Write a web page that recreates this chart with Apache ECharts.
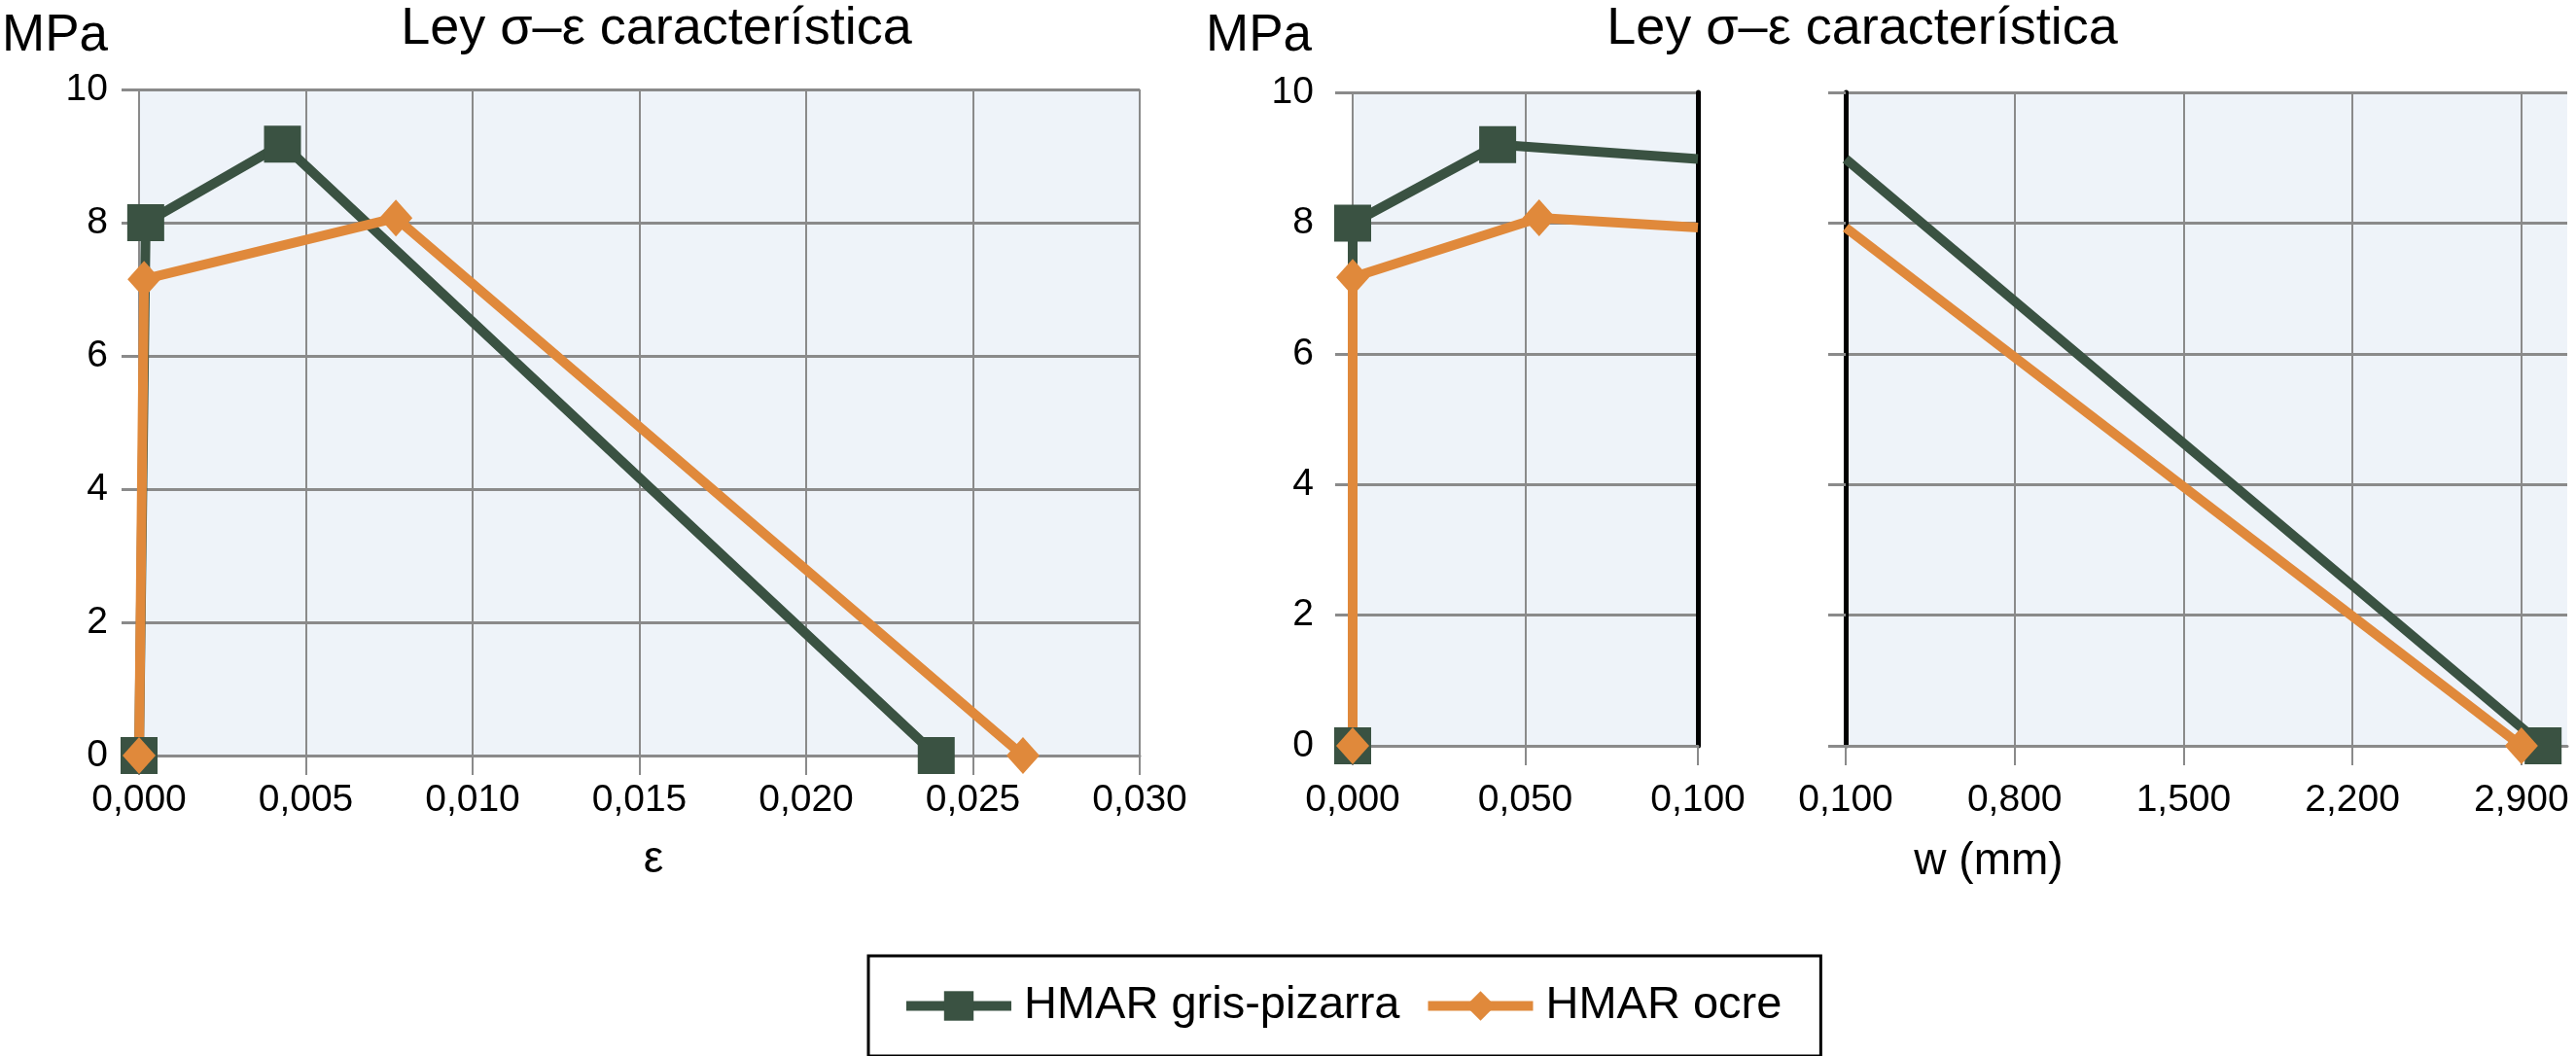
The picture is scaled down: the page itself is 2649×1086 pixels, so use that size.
<!DOCTYPE html>
<html><head><meta charset="utf-8">
<script src="https://cdn.jsdelivr.net/npm/echarts@6/dist/echarts.min.js"></script>
<style>html,body{margin:0;padding:0;background:#fff}#c{width:2649px;height:1086px}</style>
</head><body><div id="c"></div>
<script>
// ---- data ----
const seriesNames = ['HMAR gris-pizarra', 'HMAR ocre'];
const titleText = 'Ley σ–ε característica';
const yUnit = 'MPa';
const epsName = 'ε';
const wName = 'w (mm)';
// left chart: stress vs strain
const grisEps = [[0, 0], [0.0002, 8.0], [0.0043, 9.18], [0.0239, 0]];
const ocreEps = [[0, 0], [0.00015, 7.15], [0.0077, 8.07], [0.0265, 0]];
// right chart, first segment (w 0 .. 0.1 mm)
const grisW1 = [[0, 0], [0, 8.0], [0.042, 9.2], [0.1, 8.98]];
const ocreW1 = [[0, 0], [0, 7.17], [0.054, 8.08], [0.1, 7.93]];
// right chart, second segment (w 0.1 .. 2.9 mm)
const grisW2 = [[0.1, 8.98], [2.99, 0]];
const ocreW2 = [[0.1, 7.93], [2.9, 0]];
// ticks
const yTicks = [0, 2, 4, 6, 8, 10];
const epsTicks = [0, 0.005, 0.010, 0.015, 0.020, 0.025, 0.030];
const w1Ticks = [0, 0.05, 0.1];
const w2Ticks = [0.1, 0.8, 1.5, 2.2, 2.9];
const breakW = 0.1; // points at the axis break carry no marker

// ---- style ----
const GREEN = '#3a5242', ORANGE = '#e0893b', GRID = '#8a8a8a', BG = '#eef3f9';
const FONT = 'Liberation Sans';
const fmt3 = v => v.toFixed(3).replace('.', ',');

const chart = echarts.init(document.getElementById('c'), null, {renderer: 'canvas'});

function xAxisBase(grid, ticks, margin, extra) {
  return Object.assign({
    type: 'value', gridIndex: grid,
    min: ticks[0], max: ticks[ticks.length - 1],
    axisLine: {show: true, onZero: false, lineStyle: {color: GRID, width: 3}},
    axisTick: {show: true, length: 20, lineStyle: {color: GRID, width: 2}},
    axisLabel: {margin: margin, color: '#000', fontSize: 39, fontFamily: FONT, formatter: fmt3},
    splitLine: {show: true, lineStyle: {color: GRID, width: 2}}
  }, extra || {});
}
function yAxisBase(grid, margin, extra) {
  return Object.assign({
    type: 'value', gridIndex: grid,
    min: yTicks[0], max: yTicks[yTicks.length - 1], interval: yTicks[1] - yTicks[0],
    axisLine: {show: true, lineStyle: {color: GRID, width: 2}},
    axisTick: {show: true, length: 18, lineStyle: {color: GRID, width: 3}},
    axisLabel: {margin: margin, color: '#000', fontSize: 39, fontFamily: FONT},
    splitLine: {show: true, lineStyle: {color: GRID, width: 3}}
  }, extra || {});
}
function mk(name, data, xi, yi, color, symbol, size) {
  return {
    name: name, type: 'line', xAxisIndex: xi, yAxisIndex: yi,
    data: data.map(p => (p[0] === breakW && xi > 0 ? {value: p, symbol: 'none'} : p)),
    symbol: symbol, symbolSize: size,
    showSymbol: true, color: color,
    itemStyle: {color: color},
    lineStyle: {color: color, width: 10},
    emphasis: {disabled: true}
  };
}

const option = {
  animation: false,
  backgroundColor: '#fff',
  textStyle: {fontFamily: FONT},
  grid: [
    {left: 143, top: 92, width: 1029, height: 685, show: true, backgroundColor: BG, borderWidth: 0},
    {left: 1391, top: 95, width: 355, height: 672, show: true, backgroundColor: BG, borderWidth: 0},
    {left: 1898, top: 95, width: 742, height: 672, show: true, backgroundColor: BG, borderWidth: 0}
  ],
  xAxis: [
    xAxisBase(0, epsTicks, 27, {interval: epsTicks[1] - epsTicks[0]}),
    xAxisBase(1, w1Ticks, 37, {interval: w1Ticks[1] - w1Ticks[0]}),
    xAxisBase(2, w2Ticks, 37, {
      max: 3.09,
      axisLabel: {margin: 37, color: '#000', fontSize: 39, fontFamily: FONT, formatter: fmt3, customValues: w2Ticks},
      axisTick: {show: true, length: 20, lineStyle: {color: GRID, width: 2}, customValues: w2Ticks}
    })
  ],
  yAxis: [
    yAxisBase(0, 32),
    yAxisBase(1, 40),
    yAxisBase(1, 0, {position: 'right', axisLine: {show: true, lineStyle: {color: '#000', width: 5}},
      axisTick: {show: false}, axisLabel: {show: false}, splitLine: {show: false}}),
    yAxisBase(2, 0, {axisLine: {show: true, lineStyle: {color: '#000', width: 5}},
      axisLabel: {show: false}})
  ],
  legend: {
    data: seriesNames,
    left: 893, top: 983, orient: 'horizontal',
    itemWidth: 108, itemHeight: 38, itemGap: 24,
    borderColor: '#000', borderWidth: 3, borderRadius: 0,
    padding: [28, 40, 28, 34],
    lineStyle: {width: 10},
    textStyle: {fontSize: 47, fontFamily: FONT, color: '#000', padding: [0, 0, 0, 8]}
  },
  graphic: [
    {type: 'text', style: {text: yUnit, x: 2, y: 37, font: '53px "' + FONT + '"', fill: '#000', textAlign: 'left', textVerticalAlign: 'middle'}},
    {type: 'text', style: {text: yUnit, x: 1240, y: 37, font: '53px "' + FONT + '"', fill: '#000', textAlign: 'left', textVerticalAlign: 'middle'}},
    {type: 'text', style: {text: titleText, x: 675, y: 30, font: '54px "' + FONT + '"', fill: '#000', textAlign: 'center', textVerticalAlign: 'middle'}},
    {type: 'text', style: {text: titleText, x: 1915, y: 30, font: '54px "' + FONT + '"', fill: '#000', textAlign: 'center', textVerticalAlign: 'middle'}},
    {type: 'text', style: {text: epsName, x: 672, y: 884, font: '46px "' + FONT + '"', fill: '#000', textAlign: 'center', textVerticalAlign: 'middle'}},
    {type: 'text', style: {text: wName, x: 2045, y: 886, font: '46px "' + FONT + '"', fill: '#000', textAlign: 'center', textVerticalAlign: 'middle'}}
  ],
  series: [
    mk(seriesNames[0], grisEps, 0, 0, GREEN, 'rect', 38),
    mk(seriesNames[0], grisW1, 1, 1, GREEN, 'rect', 38),
    mk(seriesNames[0], grisW2, 2, 3, GREEN, 'rect', 38),
    mk(seriesNames[1], ocreEps, 0, 0, ORANGE, 'diamond', [34, 38]),
    mk(seriesNames[1], ocreW1, 1, 1, ORANGE, 'diamond', [34, 38]),
    mk(seriesNames[1], ocreW2, 2, 3, ORANGE, 'diamond', [34, 38])
  ]
};
chart.setOption(option);
</script>
</body></html>
